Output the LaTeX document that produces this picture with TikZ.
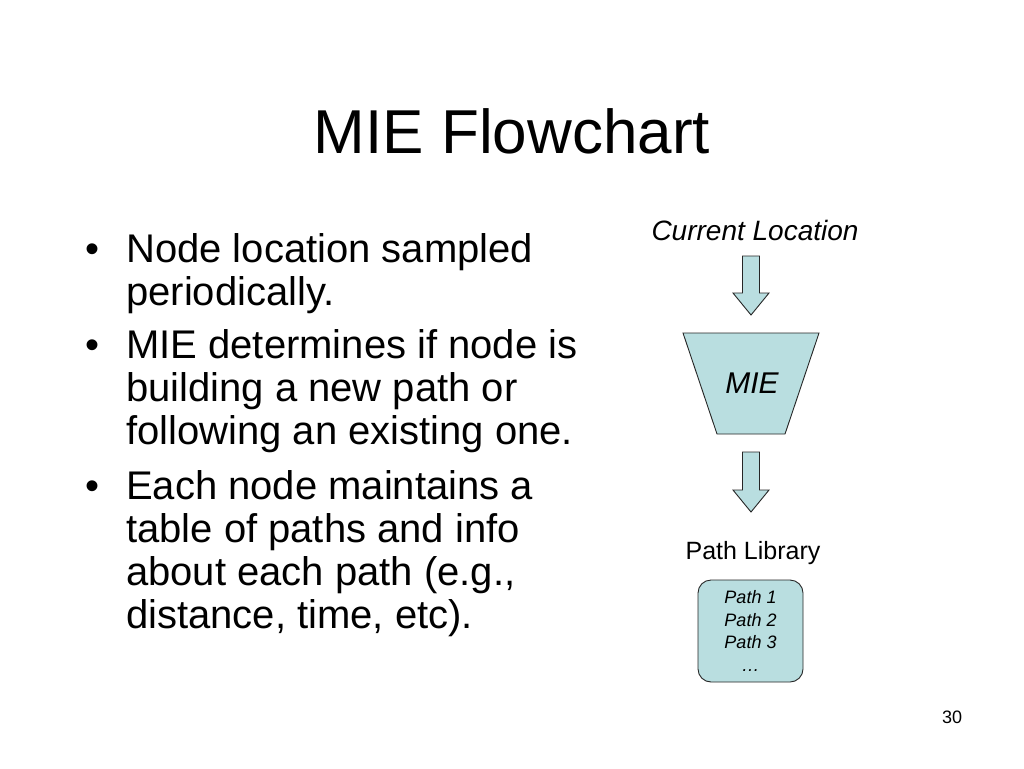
\documentclass[tikz,border=0pt]{standalone}
\usepackage{fontspec}
\setmainfont{Liberation Sans}
\usetikzlibrary{calc}
\definecolor{fillblue}{RGB}{185,222,224}
\begin{document}
\begin{tikzpicture}[x=1pt,y=-1pt,
  every node/.style={inner sep=0pt},
  bodytext/.style={anchor=base west,font=\fontsize{40}{43}\selectfont},
  bulletmark/.style={anchor=base,font=\fontsize{40}{43}\selectfont},
  shapefill/.style={draw=black!85,fill=fillblue,line width=0.9pt,line join=miter},
]
\useasboundingbox[fill=white] (0,0) rectangle (1024,768);
% title
\node[anchor=base,font=\fontsize{62}{70}\selectfont] (title) at (512,153) {MIE Flowchart};
% bullets
\node[bulletmark] (b1) at (93,262) {•};
\node[bulletmark] (b2) at (93,358) {•};
\node[bulletmark] (b3) at (93,499) {•};
\node[bodytext] (l1) at (126,262) {Node location sampled};
\node[bodytext] (l2) at (126,305) {periodically.};
\node[bodytext] (l3) at (126,358) {MIE determines if node is};
\node[bodytext] (l4) at (126,401) {building a new path or};
\node[bodytext] (l5) at (126,444) {following an existing one.};
\node[bodytext] (l6) at (126,499) {Each node maintains a};
\node[bodytext] (l7) at (126,542) {table of paths and info};
\node[bodytext] (l8) at (126,585) {about each path (e.g.,};
\node[bodytext] (l9) at (126,628) {distance, time, etc).};
% right flowchart
\node[anchor=base,font=\itshape\fontsize{28}{32}\selectfont] (cl) at (755,240) {Current Location};
\coordinate (a1t) at (751,256);
\coordinate (a1b) at (751,315);
\draw[shapefill] ($(a1t)+(-8.5,0)$) -- ($(a1t)+(8.5,0)$) -- ($(a1b)+(8.5,-22)$) -- ($(a1b)+(18,-22)$)
  -- (a1b) -- ($(a1b)+(-18,-22)$) -- ($(a1b)+(-8.5,-22)$) -- cycle;
\draw[shapefill] (683,333) -- (819,333) -- (785,434) -- (717,434) -- cycle;
\node[font=\itshape\fontsize{30}{32}\selectfont] (mie) at (752,383) {MIE};
\coordinate (a2t) at (751,452);
\coordinate (a2b) at (751,512);
\draw[shapefill] ($(a2t)+(-8.5,0)$) -- ($(a2t)+(8.5,0)$) -- ($(a2b)+(8.5,-22)$) -- ($(a2b)+(18,-22)$)
  -- (a2b) -- ($(a2b)+(-18,-22)$) -- ($(a2b)+(-8.5,-22)$) -- cycle;
\node[anchor=base,font=\fontsize{25}{30}\selectfont] (pl) at (753,559) {Path Library};
\node[shapefill,rounded corners=13pt,minimum width=105pt,minimum height=102pt] (lib) at (750.5,631) {};
\node[align=center,font=\itshape\fontsize{18}{22.5}\selectfont] (libtext) at (lib.center) {Path 1\\Path 2\\Path 3\\…};
% page number
\node[anchor=base,font=\fontsize{18}{20}\selectfont] (pg) at (952,723) {30};
\end{tikzpicture}
\end{document}
